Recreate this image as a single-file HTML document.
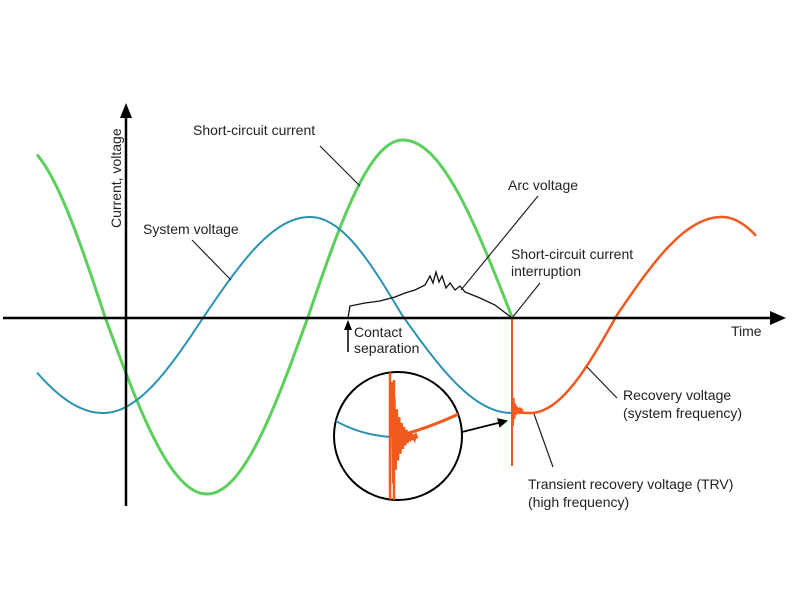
<!DOCTYPE html>
<html><head><meta charset="utf-8"><style>
html,body{margin:0;padding:0;background:#fff;}
svg{display:block;font-family:"Liberation Sans",Arial,sans-serif;}
text{font-size:14px;fill:#222;}
</style></head><body>
<svg id="s" width="792" height="612" viewBox="0 0 792 612">
<defs>
<marker id="ah" markerWidth="10" markerHeight="10" refX="8" refY="5" orient="auto" markerUnits="userSpaceOnUse"><path d="M0,0 L10,5 L0,10 Z" fill="#000"/></marker>
<clipPath id="cc"><circle cx="398" cy="436" r="64"/></clipPath>
</defs>
<path id="green" fill="none" stroke="#5ccf5c" stroke-width="3"/>
<path id="blue" fill="none" stroke="#2a93b0" stroke-width="2"/>
<path id="orange" fill="none" stroke="#f05a1e" stroke-width="2.5"/>
<path id="spike" fill="none" stroke="#f05a1e" stroke-width="2"/>
<line x1="3" y1="318" x2="775" y2="318" stroke="#000" stroke-width="2.5"/>
<path d="M770,311 L786,318 L770,325 Z" fill="#000"/>
<line x1="126" y1="506" x2="126" y2="115" stroke="#000" stroke-width="2.5"/>
<path d="M120,118 L126,103 L132,118 Z" fill="#000"/>
<path d="M348,318 L350,306 L365,303 L380,301 L395,297 L405,293 L415,290 L425,285 L430,276 L433,283 L436,272 L439,282 L442,276 L446,288 L450,283 L455,290 L460,286 L465,292 L480,298 L495,305 L512,318" fill="none" stroke="#111" stroke-width="1.3"/>
<circle cx="398" cy="436" r="64" fill="#fff" stroke="#000" stroke-width="2"/>
<g clip-path="url(#cc)">
<path d="M334,420 Q360,435 391,437" fill="none" stroke="#2a93b0" stroke-width="2"/>
<path d="M396,436 Q425,430 465,411" fill="none" stroke="#f05a1e" stroke-width="3"/>
<path id="cspike" fill="none" stroke="#f05a1e" stroke-width="2.5"/>
</g>
<line x1="462" y1="432" x2="506" y2="421" stroke="#000" stroke-width="1.8" marker-end="url(#ah)"/>
<g stroke="#222" stroke-width="1.2">
<line x1="320" y1="146" x2="360" y2="186"/>
<line x1="192" y1="240" x2="231" y2="280"/>
<line x1="538" y1="196" x2="461" y2="290"/>
<line x1="540" y1="283" x2="512" y2="318"/>
<line x1="617" y1="398" x2="587" y2="367"/>
<line x1="553" y1="467" x2="534" y2="414"/>
</g>
<line x1="348" y1="352" x2="348" y2="328" stroke="#000" stroke-width="1.5"/>
<path d="M344,330 L348,320 L352,330 Z" fill="#000"/>
<text x="193" y="135">Short-circuit current</text>
<text x="143" y="234">System voltage</text>
<text transform="translate(121,228) rotate(-90)">Current, voltage</text>
<text x="508" y="190">Arc voltage</text>
<text x="511" y="259">Short-circuit current</text>
<text x="511" y="276">interruption</text>
<text x="731" y="336">Time</text>
<text x="354" y="337">Contact</text>
<text x="354" y="353">separation</text>
<text x="623" y="400">Recovery voltage</text>
<text x="623" y="418">(system frequency)</text>
<text x="528" y="489">Transient recovery voltage (TRV)</text>
<text x="528" y="507">(high frequency)</text>
</svg>
<script>
function interp(pts,x){for(var i=0;i<pts.length-1;i++){if(x<=pts[i+1][0]){var a=pts[i],b=pts[i+1];return a[1]+(b[1]-a[1])*(x-a[0])/(b[0]-a[0]);}}return pts[pts.length-1][1];}
function curve(x0,x1,phase,amp,c){var d="";for(var x=x0;x<=x1;x+=1){var p=interp(phase,x);var y=c-amp*Math.cos(p*Math.PI);d+=(x==x0?"M":"L")+x+","+y.toFixed(1)+" ";}return d;}
var gph=[[37,-1.87],[105,-1.5],[207,-1],[308,-0.5],[403,0],[512,0.5]];
document.getElementById("green").setAttribute("d",curve(37,512,gph,177,317));
var bph=[[37,-1.3],[103,-1],[205,-0.5],[310,0],[402,0.5],[512,1]];
document.getElementById("blue").setAttribute("d",curve(37,512,bph,98,315));
var oph=[[512,-1.05],[530,-1],[617,-0.5],[722,0],[756,0.2]];
document.getElementById("orange").setAttribute("d",curve(514,756,oph,98,315));
var s="M512,318 L512,466 M512,410 ";
for(var i=0;i<14;i++){var a=22*Math.exp(-i*0.3);s+="L"+(512+i*0.8).toFixed(1)+","+(410+(i%2?a:-a)).toFixed(1)+" ";}
s+="L522,412";
document.getElementById("spike").setAttribute("d",s);
var cs="M390,372 L390,505 M394,380 L394,500 ";
cs+="M392,437 ";
for(var i=0;i<22;i++){var a=55*Math.exp(-i*0.17);cs+="L"+(392+i*1.2).toFixed(1)+","+(437+(i%2?a:-a)).toFixed(1)+" ";}
document.getElementById("cspike").setAttribute("d",cs);
</script>
</body></html>
